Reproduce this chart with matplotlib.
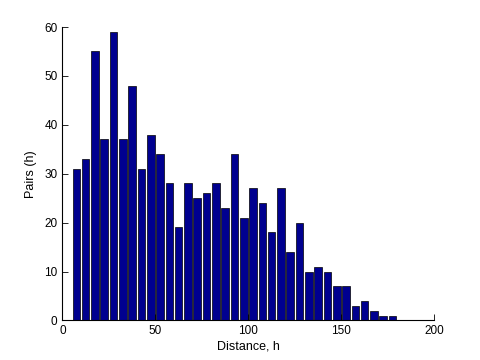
import matplotlib
matplotlib.use("Agg")
import matplotlib.pyplot as plt

centers = [7.5 + 5 * i for i in range(35)]
counts = [31, 33, 55, 37, 59, 37, 48, 31, 38, 34, 28, 19, 28, 25, 26, 28, 23, 34,
          21, 27, 24, 18, 27, 14, 20, 10, 11, 10, 7, 7, 3, 4, 2, 1, 1]
xticks = [0, 50, 100, 150, 200]
yticks = [0, 10, 20, 30, 40, 50, 60]

plt.rcParams['font.family'] = ['Liberation Sans', 'DejaVu Sans']
fig = plt.figure(figsize=(4.8, 3.6), dpi=100)
ax = fig.add_axes([0.13, 0.11, 0.775, 0.815])
ax.bar(centers, counts, width=4.1, color='#00008F', edgecolor='black', linewidth=0.5)
ax.set_xlim(0, 200)
ax.set_ylim(0, 60)
ax.set_xticks(xticks)
ax.set_yticks(yticks)
ax.spines['top'].set_visible(False)
ax.spines['right'].set_visible(False)
ax.tick_params(direction='in', length=4, labelsize=8.5, width=0.6)
for s in ['left', 'bottom']:
    ax.spines[s].set_linewidth(0.8)
ax.set_xlabel('Distance, h', fontsize=9, labelpad=2)
ax.set_ylabel('Pairs (h)', fontsize=9, labelpad=5)
fig.savefig('out.png', dpi=100)
